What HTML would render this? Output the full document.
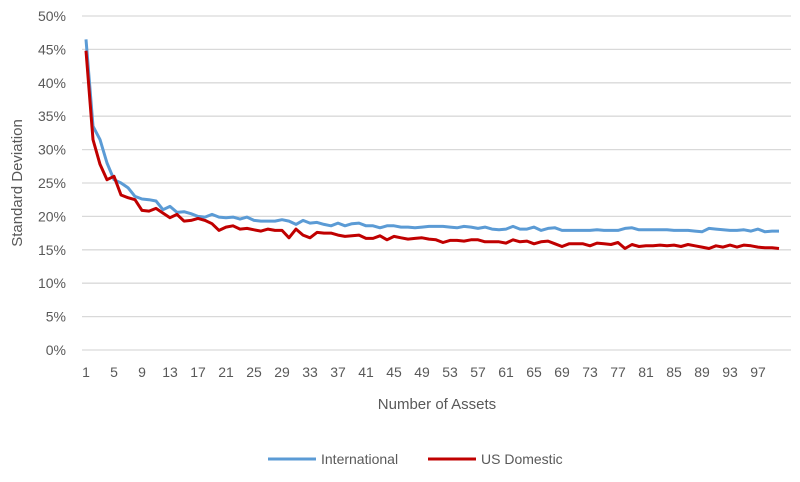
<!DOCTYPE html>
<html><head><meta charset="utf-8"><style>
html,body{margin:0;padding:0;background:#fff;}
svg text{font-family:"Liberation Sans",sans-serif;fill:#595959;}
</style></head><body>
<svg id="s" width="800" height="477" xmlns="http://www.w3.org/2000/svg">
<g id="grid" stroke="#d9d9d9" stroke-width="1.3"></g>
<g id="yl" font-size="14" text-anchor="end"></g>
<g id="xl" font-size="14" text-anchor="middle"></g>
<text x="22" y="183" font-size="15" text-anchor="middle" transform="rotate(-90 22 183)">Standard Deviation</text>
<text x="437" y="409" font-size="15" text-anchor="middle">Number of Assets</text>
<polyline id="pi" fill="none" stroke="#5b9bd5" stroke-width="3" stroke-linejoin="round"/>
<polyline id="pu" fill="none" stroke="#c00000" stroke-width="3" stroke-linejoin="round"/>
<line x1="268" y1="459" x2="316" y2="459" stroke="#5b9bd5" stroke-width="3"/>
<text x="321" y="464" font-size="14" >International</text>
<line x1="428" y1="459" x2="476" y2="459" stroke="#c00000" stroke-width="3"/>
<text x="481" y="464" font-size="14">US Domestic</text>
</svg>
<script>
var ns="http://www.w3.org/2000/svg";
function Y(v){return 350-v*6.68;}
function X(n){return 86+(n-1)*7;}
var g=document.getElementById('grid'),yl=document.getElementById('yl'),xl=document.getElementById('xl');
for(var i=0;i<=10;i++){var y=Y(i*5);var l=document.createElementNS(ns,'line');l.setAttribute('x1',82);l.setAttribute('x2',791);l.setAttribute('y1',y);l.setAttribute('y2',y);g.appendChild(l);
var t=document.createElementNS(ns,'text');t.setAttribute('x',66);t.setAttribute('y',y+5);t.textContent=(i*5)+'%';yl.appendChild(t);}
for(var n=1;n<=97;n+=4){var t=document.createElementNS(ns,'text');t.setAttribute('x',X(n));t.setAttribute('y',377);t.textContent=n;xl.appendChild(t);}
var A=[46.5,33.5,31.5,28,25.5,25,24.3,23,22.6,22.5,22.3,21,21.5,20.6,20.7,20.4,20,19.9,20.3,19.9,19.8,19.9,19.6,19.9,19.4,19.3,19.3,19.3,19.5,19.3,18.8,19.4,19.0,19.1,18.8,18.6,19.0,18.6,18.9,19.0,18.6,18.6,18.3,18.6,18.6,18.4,18.4,18.3,18.4,18.5,18.5,18.5,18.4,18.3,18.5,18.4,18.2,18.4,18.1,18.0,18.1,18.5,18.1,18.1,18.4,17.9,18.2,18.3,17.9,17.9,17.9,17.9,17.9,18.0,17.9,17.9,17.9,18.2,18.3,18.0,18.0,18.0,18.0,18.0,17.9,17.9,17.9,17.8,17.7,18.2,18.1,18.0,17.9,17.9,18.0,17.8,18.1,17.7,17.8,17.8];
var B=[44.8,31.5,27.8,25.5,26,23.2,22.8,22.5,20.9,20.8,21.2,20.5,19.8,20.3,19.3,19.4,19.7,19.4,18.9,17.9,18.4,18.6,18.1,18.2,18.0,17.8,18.1,17.9,17.9,16.8,18.1,17.2,16.8,17.6,17.5,17.5,17.2,17.0,17.1,17.2,16.7,16.7,17.1,16.5,17.0,16.8,16.6,16.7,16.8,16.6,16.5,16.1,16.4,16.4,16.3,16.5,16.5,16.2,16.2,16.2,16.0,16.5,16.2,16.3,15.9,16.2,16.3,15.9,15.5,15.9,15.9,15.9,15.6,16.0,15.9,15.8,16.1,15.2,15.8,15.5,15.6,15.6,15.7,15.6,15.7,15.5,15.8,15.6,15.4,15.2,15.6,15.4,15.7,15.4,15.7,15.6,15.4,15.3,15.3,15.2];
function pts(a){return a.map(function(v,i){return X(i+1)+','+Y(v).toFixed(1);}).join(' ');}
document.getElementById('pi').setAttribute('points',pts(A));
document.getElementById('pu').setAttribute('points',pts(B));
</script>
</body></html>
